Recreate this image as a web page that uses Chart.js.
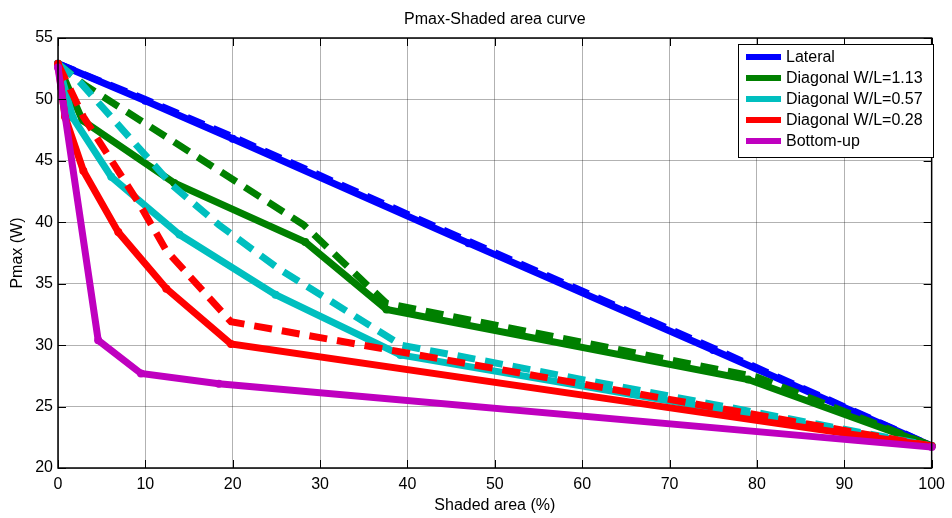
<!DOCTYPE html>
<html lang="en">
  <head>
    <meta charset="UTF-8" />
    <title>Pmax-Shaded area curve</title>
    <script src="https://cdn.jsdelivr.net/npm/chart.js@4.4.1/dist/chart.umd.min.js"></script>
    <style>
      html, body { margin: 0; padding: 0; background: #fff; }
      #wrap { width: 952px; height: 518px; }
    </style>
  </head>
  <body>
    <div id="wrap"><canvas id="chart" width="952" height="518"></canvas></div>
    <script>
      // series names and colours (legend lists the solid curves only)
      const seriesNames = ['Lateral', 'Diagonal W/L=1.13', 'Diagonal W/L=0.57', 'Diagonal W/L=0.28', 'Bottom-up']
      const seriesColors = ['#0000ff', '#008000', '#00bfbf', '#ff0000', '#bf00bf']

      // values: shaded area (%) -> Pmax (W)
      const lateralX = [0, 10, 20, 47, 75, 100]
      const lateralY = [52.9, 49.9, 46.8, 38.3, 29.6, 21.8]
      const lateralDashX = [0, 10, 20, 47, 75, 100]
      const lateralDashY = [52.9, 50.0, 46.95, 38.45, 29.75, 21.8]

      const diag113X = [0, 2.8, 13.3, 28.3, 37.6, 79, 100]
      const diag113Y = [52.9, 48.3, 43.2, 38.4, 32.9, 27.2, 21.8]
      const diag113DashX = [0, 3, 12.5, 28.1, 37.6, 80, 100]
      const diag113DashY = [52.9, 51.2, 46.9, 39.8, 33.4, 27.4, 21.8]

      const diag057X = [0, 1.7, 6.1, 13.9, 24.9, 39.2, 100]
      const diag057Y = [52.9, 48.5, 43.7, 39.0, 34.1, 29.2, 21.8]
      const diag057DashX = [0, 2.4, 13.1, 18.4, 25.3, 39.3, 100]
      const diag057DashY = [52.9, 51.5, 43.0, 39.8, 36.2, 30.0, 21.8]

      const diag028X = [0, 0.8, 2.9, 6.9, 12.4, 19.8, 100]
      const diag028Y = [52.9, 48.6, 44.2, 39.2, 34.6, 30.1, 21.8]
      const diag028DashX = [0, 2.9, 9.3, 12.4, 19.8, 100]
      const diag028DashY = [52.9, 48.6, 41.5, 37.7, 31.9, 21.8]

      const bottomUpX = [0, 4.6, 9.5, 18.4, 100]
      const bottomUpY = [52.6, 30.4, 27.7, 26.85, 21.7]

      const xTicks = [0, 10, 20, 30, 40, 50, 60, 70, 80, 90, 100]
      const yTicks = [20, 25, 30, 35, 40, 45, 50, 55]

      const FONT = '"Liberation Sans", Arial, sans-serif'

      function pts(xs, ys) {
        return xs.map((x, i) => ({ x: x, y: ys[i] }))
      }

      // plot order follows the original: later curves sit on top
      const curves = [
        { x: lateralX, y: lateralY, c: 0, dash: false },
        { x: lateralDashX, y: lateralDashY, c: 0, dash: true },
        { x: diag113X, y: diag113Y, c: 1, dash: false },
        { x: diag113DashX, y: diag113DashY, c: 1, dash: true },
        { x: diag057X, y: diag057Y, c: 2, dash: false },
        { x: diag057DashX, y: diag057DashY, c: 2, dash: true },
        { x: diag028X, y: diag028Y, c: 3, dash: false },
        { x: diag028DashX, y: diag028DashY, c: 3, dash: true },
        { x: bottomUpX, y: bottomUpY, c: 4, dash: false },
      ]

      const datasets = curves.map((s, i) => ({
        label: s.dash ? '' : seriesNames[s.c],
        data: pts(s.x, s.y),
        borderColor: seriesColors[s.c],
        backgroundColor: seriesColors[s.c],
        borderWidth: 7,
        borderDash: s.dash ? [18, 10] : [],
        pointRadius: s.dash ? 0 : 4,
        pointBorderWidth: 0,
        pointHoverRadius: 0,
        tension: 0,
        fill: false,
        clip: false,
        order: curves.length - i,
      }))

      // frame, inward ticks, title, axis titles and legend in MATLAB style
      const matlabDecor = {
        id: 'matlabDecor',
        afterDraw(chart) {
          const { ctx, chartArea: a, scales } = chart
          ctx.save()
          ctx.strokeStyle = '#000'
          ctx.lineWidth = 1.5
          ctx.strokeRect(a.left, a.top, a.right - a.left, a.bottom - a.top)
          ctx.lineWidth = 1
          xTicks.forEach((t) => {
            const px = Math.round(scales.x.getPixelForValue(t)) + 0.5
            ctx.beginPath()
            ctx.moveTo(px, a.bottom); ctx.lineTo(px, a.bottom - 8)
            ctx.moveTo(px, a.top); ctx.lineTo(px, a.top + 8)
            ctx.stroke()
          })
          yTicks.forEach((t) => {
            const py = Math.round(scales.y.getPixelForValue(t)) + 0.5
            ctx.beginPath()
            ctx.moveTo(a.left, py); ctx.lineTo(a.left + 8, py)
            ctx.moveTo(a.right, py); ctx.lineTo(a.right - 8, py)
            ctx.stroke()
          })

          ctx.fillStyle = '#000'
          ctx.font = '16px ' + FONT
          ctx.textAlign = 'center'
          ctx.textBaseline = 'middle'
          ctx.fillText('Pmax-Shaded area curve', (a.left + a.right) / 2, 20)
          ctx.fillText('Shaded area (%)', (a.left + a.right) / 2, 506)
          ctx.save()
          ctx.translate(18, (a.top + a.bottom) / 2)
          ctx.rotate(-Math.PI / 2)
          ctx.fillText('Pmax (W)', 0, 0)
          ctx.restore()

          // legend box
          const lx = 738, ly = 44, lw = 195, lh = 113
          ctx.fillStyle = '#fff'
          ctx.fillRect(lx, ly, lw, lh)
          ctx.strokeStyle = '#000'
          ctx.lineWidth = 1
          ctx.strokeRect(lx + 0.5, ly + 0.5, lw, lh)
          ctx.textAlign = 'left'
          seriesNames.forEach((name, i) => {
            const yy = ly + 13 + i * 21
            ctx.strokeStyle = seriesColors[i]
            ctx.lineWidth = 6
            ctx.beginPath()
            ctx.moveTo(746, yy); ctx.lineTo(781, yy)
            ctx.stroke()
            ctx.fillStyle = '#000'
            ctx.fillText(name, 786, yy + 1)
          })
          ctx.restore()
        },
      }

      const config = {
        type: 'line',
        data: { datasets: datasets },
        options: {
          responsive: false,
          animation: false,
          events: [],
          layout: { padding: { top: 38, right: 15, left: 0, bottom: 0 } },
          plugins: {
            legend: { display: false },
            title: { display: false },
            tooltip: { enabled: false },
          },
          scales: {
            x: {
              type: 'linear',
              min: 0,
              max: 100,
              afterFit: (s) => { s.height = 50 },
              afterBuildTicks: (s) => { s.ticks = xTicks.map((v) => ({ value: v })) },
              grid: { color: 'rgba(0,0,0,0.3)', lineWidth: 1, drawTicks: false },
              border: { display: false },
              ticks: { color: '#000', font: { family: FONT, size: 16 }, padding: 7, maxRotation: 0 },
            },
            y: {
              type: 'linear',
              min: 20,
              max: 55,
              afterFit: (s) => { s.width = 58 },
              afterBuildTicks: (s) => { s.ticks = yTicks.map((v) => ({ value: v })) },
              grid: { color: 'rgba(0,0,0,0.3)', lineWidth: 1, drawTicks: false },
              border: { display: false },
              ticks: { color: '#000', font: { family: FONT, size: 16 }, padding: 5 },
            },
          },
        },
        plugins: [matlabDecor],
      }

      const chart = new Chart(document.getElementById('chart'), config)
    </script>
  </body>
</html>
